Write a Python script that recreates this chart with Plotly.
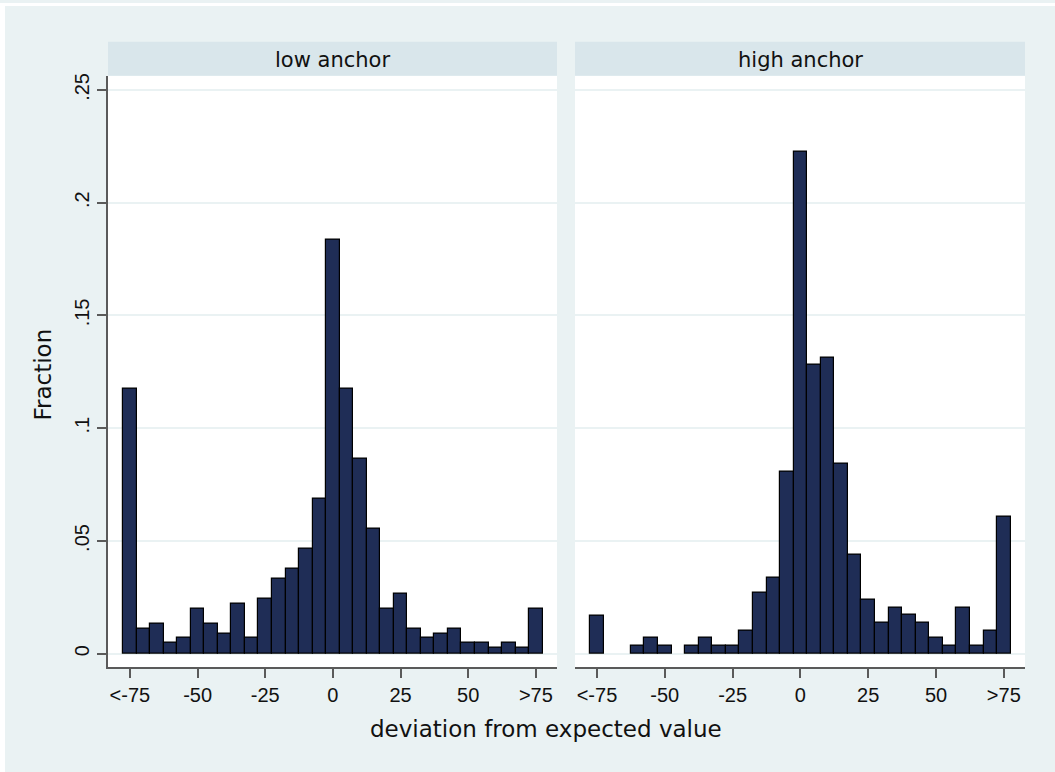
import plotly.graph_objects as go

W, H = 1055, 772

bin_centers = [-75, -70, -65, -60, -55, -50, -45, -40, -35, -30, -25, -20, -15, -10, -5,
               0, 5, 10, 15, 20, 25, 30, 35, 40, 45, 50, 55, 60, 65, 70, 75]

low_anchor = [0.1176, 0.0113, 0.0134, 0.0047, 0.0069, 0.0201, 0.0134, 0.0091, 0.0224, 0.0069,
              0.0244, 0.0334, 0.0379, 0.0466, 0.0687, 0.1837, 0.1176, 0.0863, 0.0553, 0.0201,
              0.0267, 0.0113, 0.0069, 0.0091, 0.0113, 0.0047, 0.0047, 0.0025, 0.0047, 0.0025,
              0.0201]

high_anchor = [0.0169, 0.0, 0.0, 0.0034, 0.0069, 0.0034, 0.0, 0.0034, 0.0069, 0.0034,
               0.0034, 0.0103, 0.0269, 0.0337, 0.0809, 0.2225, 0.1280, 0.1313, 0.0841, 0.0440,
               0.0238, 0.0137, 0.0204, 0.0171, 0.0137, 0.0069, 0.0034, 0.0204, 0.0034, 0.0103,
               0.0607]

panel_titles = ["low anchor", "high anchor"]
x_tick_vals = [-75, -50, -25, 0, 25, 50, 75]
x_tick_text = ["<-75", "-50", "-25", "0", "25", "50", ">75"]
y_tick_vals = [0, 0.05, 0.1, 0.15, 0.2, 0.25]
y_tick_text = ["0", ".05", ".1", ".15", ".2", ".25"]
bin_width = 5

BG = "#EAF2F3"
STRIP = "#D9E6EB"
BAR = "#1F2D56"
AXIS = "#5A5A5A"

def px_x(p):
    return p / W

def px_y(p):
    return (H - p) / H

fig = go.Figure()
for i, vals in enumerate([low_anchor, high_anchor]):
    fig.add_trace(go.Bar(
        x=bin_centers,
        y=[v if v > 0 else None for v in vals],
        width=bin_width,
        marker=dict(color=BAR, line=dict(color="#000000", width=1.2)),
        xaxis="x" if i == 0 else "x2",
        yaxis="y" if i == 0 else "y2",
        showlegend=False,
        hoverinfo="x+y",
    ))

xr = [-83.1, 82.8]
yr = [-0.00605, 0.2563]
ydom = [px_y(667), px_y(73)]
tickfont = dict(family="Liberation Sans, Arial, sans-serif", size=20, color="#111111")

common_x = dict(range=xr, tickvals=x_tick_vals, ticktext=x_tick_text, ticks="outside",
                ticklen=9, tickwidth=1.5, tickcolor=AXIS, showline=True, linecolor=AXIS,
                linewidth=1.5, showgrid=False, zeroline=False, tickfont=tickfont,
                fixedrange=True)

fig.update_layout(
    width=W, height=H,
    margin=dict(l=0, r=0, t=0, b=0),
    paper_bgcolor=BG,
    plot_bgcolor="#FFFFFF",
    bargap=0,
    xaxis=dict(domain=[px_x(108), px_x(557)], anchor="y", **common_x),
    xaxis2=dict(domain=[px_x(575), px_x(1025)], anchor="y2", **common_x),
    yaxis=dict(domain=ydom, range=yr, anchor="x", tickvals=y_tick_vals, ticktext=y_tick_text,
               ticks="outside", ticklen=9, tickwidth=1.5, tickcolor=AXIS, showline=True,
               linecolor=AXIS, linewidth=2, showgrid=True, gridcolor=BG, gridwidth=1.5,
               zeroline=False, tickangle=-90, tickfont=tickfont, fixedrange=True),
    yaxis2=dict(domain=ydom, range=yr, anchor="x2", tickvals=y_tick_vals,
                showticklabels=False, ticks="", showline=False, showgrid=True,
                gridcolor=BG, gridwidth=1.5, zeroline=False, fixedrange=True),
    shapes=[
        dict(type="rect", xref="paper", yref="paper", x0=0, x1=px_x(5), y0=0, y1=1,
             fillcolor="#FFFFFF", line=dict(width=0), layer="below"),
        dict(type="rect", xref="paper", yref="paper", x0=0, x1=1, y0=px_y(3), y1=1,
             fillcolor="#FFFFFF", line=dict(width=0), layer="below"),
        dict(type="rect", xref="paper", yref="paper", x0=px_x(108), x1=px_x(557),
             y0=px_y(73), y1=px_y(39), fillcolor=STRIP, line=dict(width=0)),
        dict(type="rect", xref="paper", yref="paper", x0=px_x(575), x1=px_x(1025),
             y0=px_y(73), y1=px_y(39), fillcolor=STRIP, line=dict(width=0)),
    ],
    annotations=[
        dict(text=panel_titles[0], xref="paper", yref="paper", x=px_x(332.5), y=px_y(57),
             xanchor="center", yanchor="middle", showarrow=False,
             font=dict(family="DejaVu Sans, sans-serif", size=21, color="#111111")),
        dict(text=panel_titles[1], xref="paper", yref="paper", x=px_x(800), y=px_y(57),
             xanchor="center", yanchor="middle", showarrow=False,
             font=dict(family="DejaVu Sans, sans-serif", size=21, color="#111111")),
        dict(text="deviation from expected value", xref="paper", yref="paper",
             x=px_x(545.5), y=px_y(729), xanchor="center", yanchor="middle", showarrow=False,
             font=dict(family="DejaVu Sans, sans-serif", size=23, color="#111111")),
        dict(text="Fraction", xref="paper", yref="paper", x=px_x(43), y=px_y(373),
             xanchor="center", yanchor="middle", showarrow=False, textangle=-90,
             font=dict(family="DejaVu Sans, sans-serif", size=23, color="#111111")),
    ],
)

fig.write_html("out.html")
